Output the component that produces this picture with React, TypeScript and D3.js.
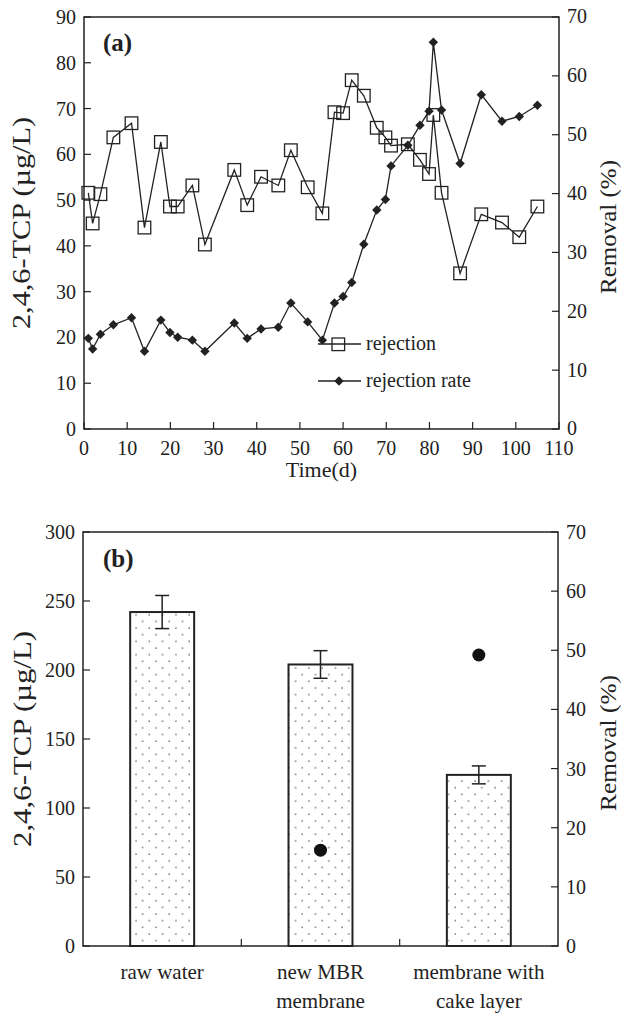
import React from 'react';
import {scaleLinear, scaleBand, line, range} from 'd3';

// sampling days (shared by both series in panel a)
const days = [1, 2, 3.8, 6.8, 11, 14, 17.8, 19.9, 21.7, 25.1, 28, 34.8, 37.8, 41, 45, 47.9, 51.8, 55.2, 58, 60,
    62, 64.8, 67.8, 69.8, 71.1, 75, 77.8, 79.9, 80.9, 82.8, 87.1, 92, 96.8, 100.8, 105];
// 2,4,6-TCP (ug/L), squares, left axis
const rejection = [51.6, 44.9, 51.3, 63.7, 66.8, 44.0, 62.7, 48.6, 48.6, 53.2, 40.3, 56.6, 48.9, 55.1, 53.2, 60.9, 52.8, 47.1, 69.2, 69.0,
    76.2, 72.8, 65.8, 63.7, 61.9, 62.2, 58.8, 55.7, 68.6, 51.6, 34.0, 46.9, 45.1, 41.9, 48.6];
// removal (%), diamonds, right axis
const rejectionRate = [15.4, 13.6, 16.1, 17.7, 18.9, 13.2, 18.5, 16.4, 15.6, 15.1, 13.2, 18.0, 15.4, 17.0, 17.3, 21.4, 18.2, 15.1, 21.4, 22.5,
    24.9, 31.4, 37.2, 39.0, 44.7, 48.2, 51.6, 54.0, 65.7, 54.2, 45.1, 56.8, 52.3, 53.1, 55.0];

// panel b
const categories = ['raw water', 'new MBR|membrane', 'membrane with|cake layer'];
const concentration = [242, 204, 124];
const concentrationErr = [12, 10, 6.5];
const removal = [null, 16.2, 49.2];

const FONT = '"Liberation Serif", "Times New Roman", serif';
const TICK = 7;

let PanelA = () => {
    let m = {left: 84, right: 559, top: 17, bottom: 429};
    let x = scaleLinear().domain([0, 110]).range([m.left, m.right]);
    let yL = scaleLinear().domain([0, 90]).range([m.bottom, m.top]);
    let yR = scaleLinear().domain([0, 70]).range([m.bottom, m.top]);
    let sqLine = line<number>().x((d, i) => x(days[i])).y(d => yL(d));
    let dmLine = line<number>().x((d, i) => x(days[i])).y(d => yR(d));
    let diamond = 'M0,-4.7L4.7,0L0,4.7L-4.7,0Z';

    return (
        <g fontFamily={FONT}>
            <rect x={m.left} y={m.top} width={m.right - m.left} height={m.bottom - m.top} fill="none" stroke="#222" strokeWidth="1.5"/>
            {x.ticks(11).map(t => <g key={'x' + t}>
                <line x1={x(t)} x2={x(t)} y1={m.bottom} y2={m.bottom - TICK} stroke="#222" strokeWidth="1.2"/>
                <text x={x(t)} y={m.bottom + 26} textAnchor="middle" fontSize="20" fill="#222">{t}</text>
            </g>)}
            {yL.ticks(9).map(t => <g key={'yl' + t}>
                <line x1={m.left} x2={m.left + TICK} y1={yL(t)} y2={yL(t)} stroke="#222" strokeWidth="1.2"/>
                <text x={m.left - 8} y={yL(t)} dy="0.35em" textAnchor="end" fontSize="20" fill="#222">{t}</text>
            </g>)}
            {yR.ticks(7).map(t => <g key={'yr' + t}>
                <line x1={m.right} x2={m.right - TICK} y1={yR(t)} y2={yR(t)} stroke="#222" strokeWidth="1.2"/>
                <text x={m.right + 8} y={yR(t)} dy="0.32em" textAnchor="start" fontSize="20" fill="#222">{t}</text>
            </g>)}

            <text x="103" y="51" fontSize="25" fontWeight="bold" fill="#222">(a)</text>

            <path d={sqLine(rejection)} fill="none" stroke="#222" strokeWidth="1.3"/>
            {rejection.map((v, i) => <rect key={'s' + i} x={x(days[i]) - 6.3} y={yL(v) - 6.3} width="12.6" height="12.6"
                                            fill="none" stroke="#222" strokeWidth="1.3"/>)}
            <path d={dmLine(rejectionRate)} fill="none" stroke="#222" strokeWidth="1.3"/>
            {rejectionRate.map((v, i) => <path key={'d' + i} d={diamond} transform={`translate(${x(days[i])},${yR(v)})`} fill="#222"/>)}

            <g>
                <line x1="318" x2="361" y1="344" y2="344" stroke="#222" strokeWidth="1.3"/>
                <rect x="332" y="338" width="12.6" height="12.6" fill="none" stroke="#222" strokeWidth="1.3"/>
                <text x="366" y="350" fontSize="20" fill="#222">rejection</text>
                <line x1="318" x2="361" y1="381" y2="381" stroke="#222" strokeWidth="1.3"/>
                <path d={diamond} transform="translate(339,381)" fill="#222"/>
                <text x="366" y="387" fontSize="20" fill="#222">rejection rate</text>
            </g>

            <text x={(m.left + m.right) / 2} y="477" textAnchor="middle" fontSize="22" fill="#222">Time(d)</text>
            <text transform={`translate(30,${(m.top + m.bottom) / 2}) rotate(-90)`} textAnchor="middle" fontSize="25"
                  textLength="212" lengthAdjust="spacingAndGlyphs" fill="#222">2,4,6-TCP (µg/L)</text>
            <text transform={`translate(616,${(m.top + m.bottom) / 2 + 4}) rotate(-90)`} textAnchor="middle" fontSize="24"
                  textLength="134" lengthAdjust="spacingAndGlyphs" fill="#222">Removal (%)</text>
        </g>
    );
};

let PanelB = () => {
    let m = {left: 83, right: 558, top: 532, bottom: 946};
    let x = scaleBand<string>().domain(categories).range([m.left, m.right]).paddingInner(0.596).paddingOuter(0.298);
    let yL = scaleLinear().domain([0, 300]).range([m.bottom, m.top]);
    let yR = scaleLinear().domain([0, 70]).range([m.bottom, m.top]);
    let step = x.step();
    let bw = x.bandwidth();

    return (
        <g fontFamily={FONT}>
            <defs>
                <pattern id="dots" width="13.3" height="13.3" patternUnits="userSpaceOnUse">
                    <rect width="13.3" height="13.3" fill="#fff"/>
                    <circle cx="3" cy="3" r="0.85" fill="#777"/>
                    <circle cx="9.65" cy="9.65" r="0.85" fill="#777"/>
                </pattern>
            </defs>
            <rect x={m.left} y={m.top} width={m.right - m.left} height={m.bottom - m.top} fill="none" stroke="#222" strokeWidth="1.5"/>
            {range(1, categories.length).map(i => <line key={'xt' + i} x1={m.left + i * step} x2={m.left + i * step}
                                                        y1={m.bottom} y2={m.bottom - TICK} stroke="#222" strokeWidth="1.2"/>)}
            {yL.ticks(6).map(t => <g key={'yl' + t}>
                <line x1={m.left} x2={m.left + TICK} y1={yL(t)} y2={yL(t)} stroke="#222" strokeWidth="1.2"/>
                <text x={m.left - 8} y={yL(t)} dy="0.35em" textAnchor="end" fontSize="20" fill="#222">{t}</text>
            </g>)}
            {yR.ticks(7).map(t => <g key={'yr' + t}>
                <line x1={m.right} x2={m.right - TICK} y1={yR(t)} y2={yR(t)} stroke="#222" strokeWidth="1.2"/>
                <text x={m.right + 8} y={yR(t)} dy="0.35em" textAnchor="start" fontSize="20" fill="#222">{t}</text>
            </g>)}

            <text x="103" y="567" fontSize="25" fontWeight="bold" fill="#222">(b)</text>

            {categories.map((c, i) => {
                let cx = x(c) + bw / 2;
                let v = concentration[i], e = concentrationErr[i];
                return <g key={c}>
                    <rect x={x(c)} y={yL(v)} width={bw} height={m.bottom - yL(v)} fill="url(#dots)" stroke="#222" strokeWidth="2"/>
                    <line x1={cx} x2={cx} y1={yL(v + e)} y2={yL(v - e)} stroke="#222" strokeWidth="1.5"/>
                    <line x1={cx - 7} x2={cx + 7} y1={yL(v + e)} y2={yL(v + e)} stroke="#222" strokeWidth="1.5"/>
                    <line x1={cx - 7} x2={cx + 7} y1={yL(v - e)} y2={yL(v - e)} stroke="#222" strokeWidth="1.5"/>
                    {removal[i] != null && <circle cx={cx} cy={yR(removal[i])} r="6.5" fill="#111"/>}
                    {c.split('|').map((s, j) =>
                        <text key={j} x={cx} y={979 + j * 29} textAnchor="middle" fontSize="21" fill="#222">{s}</text>)}
                </g>;
            })}

            <text transform={`translate(31,${(m.top + m.bottom) / 2}) rotate(-90)`} textAnchor="middle" fontSize="25"
                  textLength="216" lengthAdjust="spacingAndGlyphs" fill="#222">2,4,6-TCP (µg/L)</text>
            <text transform={`translate(616,${(m.top + m.bottom) / 2 + 4}) rotate(-90)`} textAnchor="middle" fontSize="24"
                  textLength="136" lengthAdjust="spacingAndGlyphs" fill="#222">Removal (%)</text>
        </g>
    );
};

export default function App() {
    return (
        <svg width="621" height="1013" style={{position: 'absolute', left: 0, top: 0, background: '#fff'}}>
            <rect width="621" height="1013" fill="#fff"/>
            <PanelA/>
            <PanelB/>
        </svg>
    );
}
